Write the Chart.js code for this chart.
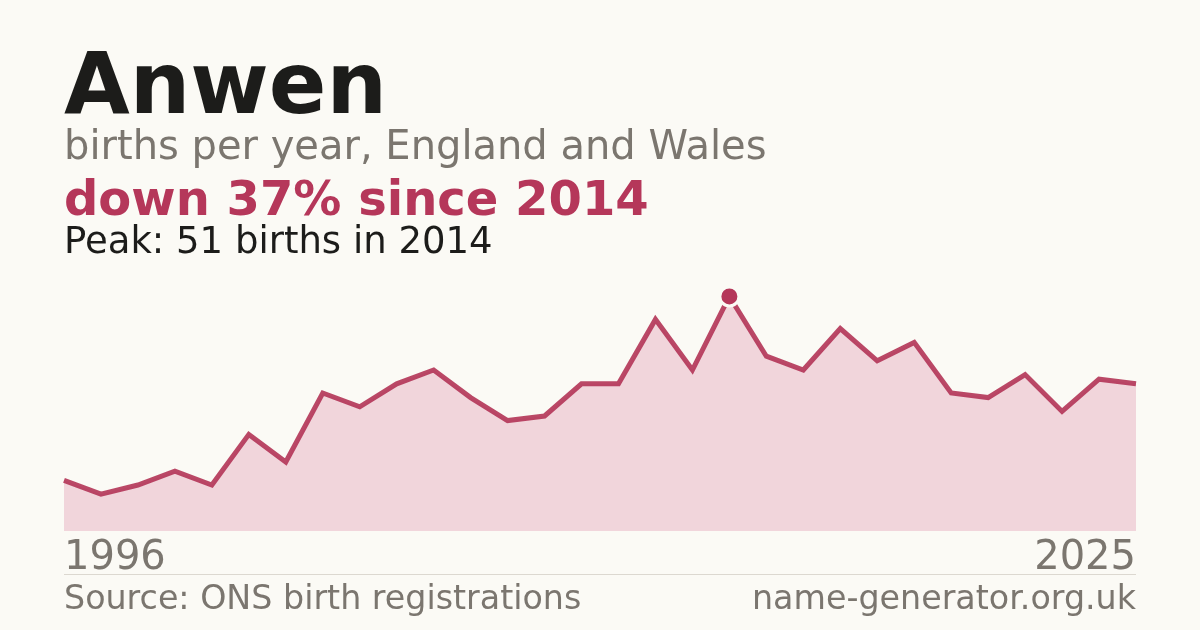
<!DOCTYPE html>
<html>
<head>
<meta charset="utf-8">
<script src="https://cdn.jsdelivr.net/npm/chart.js@4/dist/chart.umd.min.js"></script>
<style>
  html, body { margin: 0; padding: 0; }
  body { width: 1200px; height: 630px; background: #fbfaf5; position: relative; overflow: hidden;
         font-family: 'DejaVu Sans', sans-serif; }
  .t { position: absolute; left: 64px; line-height: 1; white-space: nowrap; }
  #name { top: 41px; font-size: 85px; font-weight: bold; color: #1c1c1a; }
  #sub { top: 125px; font-size: 40px; color: #7b766f; }
  #change { top: 174px; font-size: 48px; font-weight: bold; color: #b5375a; }
  #peak { top: 222px; font-size: 37px; color: #1c1c1a; }
  #rule { position: absolute; left: 64px; width: 1072px; top: 574px; height: 1px; background: #dcd8d0; }
  .foot { position: absolute; top: 581px; font-size: 33.3px; line-height: 1; color: #7b766f; white-space: nowrap; }
  #source { left: 64px; }
  #site { right: 64px; }
  #chart { position: absolute; left: 0; top: 0; }
</style>
</head>
<body>
<canvas id="chart" width="1200" height="630"></canvas>
<div class="t" id="name">Anwen</div>
<div class="t" id="sub">births per year, England and Wales</div>
<div class="t" id="change">down 37% since 2014</div>
<div class="t" id="peak">Peak: 51 births in 2014</div>
<div id="rule"></div>
<div class="foot" id="source">Source: ONS birth registrations</div>
<div class="foot" id="site">name-generator.org.uk</div>
<script>
const years = ['1996','1997','1998','1999','2000','2001','2002','2003','2004','2005',
               '2006','2007','2008','2009','2010','2011','2012','2013','2014','2015',
               '2016','2017','2018','2019','2020','2021','2022','2023','2024','2025'];
const births = [11, 8, 10, 13, 10, 21, 15, 30, 27, 32,
                35, 29, 24, 25, 32, 32, 46, 35, 51, 38,
                35, 44, 37, 41, 30, 29, 34, 26, 33, 32];
const yearTicks = ['1996', '2025'];

// only the peak year gets a dot
const peakIndex = births.indexOf(Math.max(...births));
const radii = births.map((v, i) => i === peakIndex ? 9.5 : 0);

const ctx = document.getElementById('chart').getContext('2d');

const chart = new Chart(ctx, {
  type: 'line',
  data: {
    labels: years,
    datasets: [{
      data: births,
      borderColor: 'rgba(178,52,86,0.9)',
      borderWidth: 5,
      backgroundColor: '#f1d5db',
      fill: 'origin',
      tension: 0,
      pointRadius: radii,
      pointHoverRadius: radii,
      pointBackgroundColor: '#b5375a',
      pointBorderColor: '#fbfaf5',
      pointBorderWidth: 3
    }]
  },
  options: {
    responsive: false,
    animation: false,
    layout: {
      padding: { left: 64, right: 64, top: 278, bottom: 43 }
    },
    plugins: {
      legend: { display: false },
      tooltip: { enabled: false }
    },
    scales: {
      x: {
        grid: { display: false, drawTicks: false, tickLength: 0 },
        border: { display: false },
        ticks: {
          autoSkip: false,
          maxRotation: 0,
          align: 'inner',
          padding: 4,
          color: '#7b766f',
          font: { family: 'DejaVu Sans', size: 40 },
          callback: function(value, index) {
            return yearTicks.includes(years[index]) ? years[index] : '';
          }
        }
      },
      y: {
        display: false,
        min: 0,
        max: 55
      }
    }
  }
});
</script>
</body>
</html>
